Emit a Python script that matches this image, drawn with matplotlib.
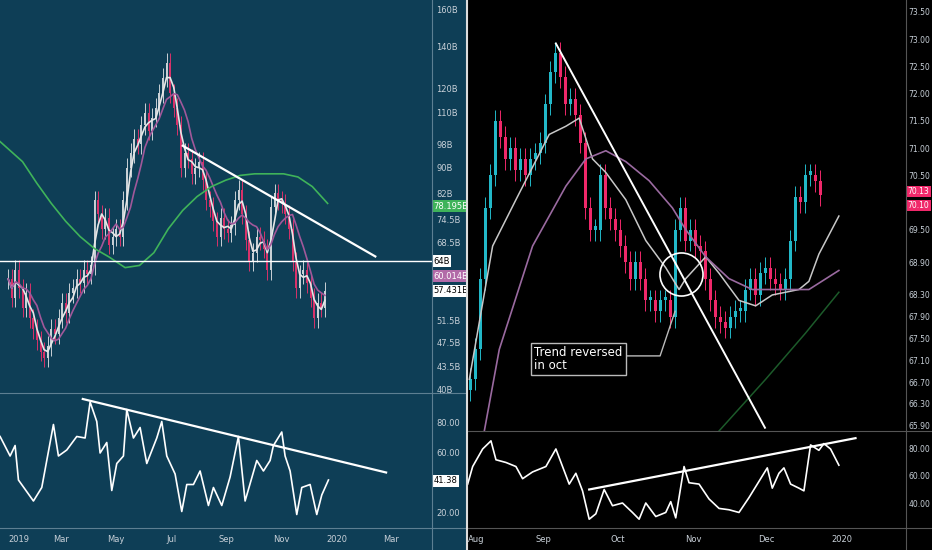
import matplotlib
matplotlib.use('Agg')
import matplotlib.pyplot as plt
import numpy as np
import pandas as pd

# ---------------- left chart (2019, values in billions) ----------------
left_step = 4  # days between candles, day 0 = Jan 1 2019
left_close = [60, 56, 62, 58, 54, 57, 52, 50,
              48, 46, 45, 47, 50, 49, 52,
              55, 53, 57, 58, 60, 59, 62, 61,
              63, 80, 76, 72, 75, 68, 70,
              72, 70, 80, 90, 95, 100, 98, 105,
              110, 103, 108, 112, 118, 125, 132,
              118, 112, 105, 90, 95, 93, 88, 90,
              92, 86, 80, 78, 74, 70, 75, 72,
              71, 73, 80, 83, 76, 69, 64,
              66, 70, 69, 67, 62, 78, 82, 80,
              79, 76, 72, 64, 58, 61, 62,
              59, 56, 52, 55, 54, 57.4]
left_green_days = [-9, 16, 32, 48, 64, 80, 96, 112, 130, 146, 162, 178, 194, 210, 226, 242, 258, 274, 290, 306, 322, 338, 355]
left_green = [99, 92, 85, 79, 74, 70, 67, 65, 62.5, 63, 66, 72, 77, 81, 84, 86, 87.5, 88, 88, 88, 87, 84, 79]
# zoom-x positions (3x) of the left oscillator points
left_rsi_x = [0, 30, 45, 55, 100, 125, 160, 175, 200, 230, 255, 270, 290, 300, 320, 335, 350, 370, 380, 400, 420, 440, 470, 485, 500, 525, 545, 560, 580, 600, 625, 640, 665, 690, 715, 735, 770, 790, 810, 820, 845, 855, 870, 890, 905, 930, 950, 965, 985]
left_rsi = [71, 58, 65, 42, 28, 37, 79, 58, 62, 71, 70, 94, 81, 60, 67, 35, 53, 58, 89, 70, 77, 53, 70, 81, 58, 46, 21, 39, 39, 48, 25, 37, 25, 44, 71, 28, 55, 48, 55, 65, 74, 58, 48, 19, 37, 39, 19, 32, 42]
left_price_ticks = [160, 140, 120, 110, 98, 90, 82, 74.5, 68.5, 51.5, 47.5, 43.5, 40]
left_price_labels = ['160B', '140B', '120B', '110B', '98B', '90B', '82B', '74.5B', '68.5B', '51.5B', '47.5B', '43.5B', '40B']
left_date_days = [0, 59, 120, 181, 243, 304, 365, 425]
left_date_labels = ['2019', 'Mar', 'May', 'Jul', 'Sep', 'Nov', '2020', 'Mar']

# ---------------- right chart (Aug-Dec 2019, day 0 = Aug 1) ----------------
right_close = [66.75, 67.3, 68.6, 69.9, 70.5, 71.5, 71.2, 70.8, 71.0, 70.6, 70.8, 70.5, 70.8, 70.9,
               71.1, 71.8, 72.4, 72.75, 72.3, 71.8, 71.9, 71.6, 71.1, 69.9, 69.5, 69.5, 70.5, 69.9,
               69.7, 69.5, 69.2, 68.9, 68.6, 68.9, 68.6, 68.2, 68.2, 68.0, 68.2, 68.2, 67.9, 69.5,
               69.9, 69.3, 69.5, 69.2, 69.1, 68.6, 68.2, 67.9, 67.8, 67.7, 67.9, 68.0, 68.0, 68.4,
               68.6, 68.3, 68.7, 68.8, 68.6, 68.5, 68.4, 68.6, 69.3, 70.1, 70.0, 70.5, 70.5, 70.4, 70.13]
zx_white = [10, 80, 150, 250, 300, 340, 380, 420, 480, 540, 600, 640, 660, 720, 760, 820, 870, 920, 1000, 1030, 1060, 1120]
right_white = [66.75, 69.2, 70.05, 71.25, 71.4, 71.55, 70.8, 70.55, 70.05, 69.3, 68.8, 68.4, 68.6, 69.0, 68.7, 68.2, 68.1, 68.3, 68.4, 68.55, 69.05, 69.75]
zx_purple = [55, 100, 200, 300, 360, 420, 480, 550, 620, 660, 720, 790, 860, 950, 1030, 1120]
right_purple = [65.8, 67.3, 69.2, 70.3, 70.8, 70.95, 70.75, 70.4, 69.9, 69.5, 69.0, 68.6, 68.4, 68.4, 68.4, 68.75]
zx_green = [760, 900, 1020, 1120]
right_green = [65.8, 66.75, 67.6, 68.35]
zx_rsi = [5, 20, 50, 75, 90, 120, 150, 170, 200, 240, 270, 310, 330, 350, 370, 390, 415, 440, 470, 500, 520, 540,
          570, 600, 615, 630, 655, 670, 700, 730, 760, 790, 820, 850, 880, 905, 920, 940, 955, 975, 1000, 1015,
          1035, 1060, 1075, 1095, 1120]
right_rsi = [54, 67, 80, 86, 72, 70, 67, 58, 63, 67, 80, 54, 62, 49, 28, 32, 50, 38, 40, 33, 28, 40,
             30, 33, 41, 29, 67, 55, 54, 43, 36, 35, 33, 44, 56, 66, 51, 62, 66, 54, 51, 49,
             83, 79, 84, 80, 68]
right_price_ticks = [73.5, 73.0, 72.5, 72.0, 71.5, 71.0, 70.5, 69.5, 68.9, 68.3, 67.9, 67.5, 67.1, 66.7, 66.3, 65.9]
right_date_days = [0, 31, 61, 92, 122, 153]
right_date_labels = ['Aug', 'Sep', 'Oct', 'Nov', 'Dec', '2020']


def zday(x):
    # right-chart zoom x -> day since Aug 1
    return (np.asarray(x) / 3.0 - 2) / 2.45


W, H = 932, 550
fig = plt.figure(figsize=(W / 100, H / 100), dpi=100)
BG_L = '#0e3e56'
fig.patch.set_facecolor(BG_L)


def box(x0, y0, x1, y1):
    return [x0 / W, 1 - y1 / H, (x1 - x0) / W, (y1 - y0) / H]


def style(ax, bg):
    ax.set_facecolor(bg)
    for s in ax.spines.values():
        s.set_visible(False)
    ax.tick_params(length=0, labelsize=6, colors='#c8d0d8', pad=3)
    ax.yaxis.tick_right()


def candles(ax, x, o, c, h, l, w, up, dn):
    for xi, oi, ci, hi, li in zip(x, o, c, h, l):
        col = up if ci >= oi else dn
        ax.vlines(xi, li, hi, color=col, lw=0.7)
        ax.bar(xi, abs(ci - oi) or 0.001 * ci, bottom=min(oi, ci), width=w, color=col, lw=0)


def tag(ax, y, text, fc, tc='black', fs=6):
    ax.text(1.004, y, text, transform=ax.get_yaxis_transform(), fontsize=fs, color=tc,
            va='center', ha='left', bbox=dict(boxstyle='square,pad=0.15', fc=fc, ec='none'))


# ---- left price pane ----
axl = fig.add_axes(box(0, 0, 432, 393))
style(axl, BG_L)
lc = np.array(left_close)
lx = np.arange(len(lc)) * left_step
lo = np.r_[lc[0], lc[:-1]]
candles(axl, lx, lo, lc, np.maximum(lo, lc) * 1.035, np.minimum(lo, lc) * 0.965, 2.2, '#c9d1d6', '#d8326a')
s = pd.Series(lc)
axl.plot(lx, s.rolling(3, min_periods=1).mean(), color='#e6e6e6', lw=1.2)
axl.plot(lx, s.rolling(7, min_periods=1).mean(), color='#a0589a', lw=1.2)
axl.plot(left_green_days, left_green, color='#3fb35a', lw=1.2)
axl.axhline(64, color='white', lw=1)
axl.plot([194, 408], [97.5, 65.1], color='white', lw=1.6)
axl.set_yscale('log')
axl.set_ylim(39.56, 165.9)
axl.set_xlim(-9, 471)
axl.set_yticks(left_price_ticks)
axl.set_yticklabels(left_price_labels)
axl.minorticks_off()
axl.set_xticks([])
tag(axl, 78.195, '78.195B', '#3fb35a', 'white')
tag(axl, 60.6, '60.014B', '#b26aa8', 'white')
tag(axl, 64, '64B', 'white')
tag(axl, 57.431, '57.431B', 'white')

# ---- left rsi pane ----
axr = fig.add_axes(box(0, 393, 432, 528))
style(axr, BG_L)
axr.plot((np.array(left_rsi_x) / 3.0 - 8) / 0.9, left_rsi, color='white', lw=1.2)
axr.plot([83, 420], [96, 47], color='white', lw=1.6)
axr.set_ylim(10, 100)
axr.set_xlim(-9, 471)
axr.set_yticks([80, 60, 20])
axr.set_yticklabels(['80.00', '60.00', '20.00'])
axr.set_xticks(left_date_days)
axr.set_xticklabels(left_date_labels)
axr.get_xticklabels()[0].set_ha('left')
axr.tick_params(axis='x', pad=5)
tag(axr, 41.38, '41.38', 'white')

# ---- right side ----
fig.patches.append(plt.Rectangle((466 / W, 0), 1 - 466 / W, 1, transform=fig.transFigure, fc='black', zorder=-1))
axp = fig.add_axes(box(468, 0, 906, 431))
style(axp, 'black')
rc = np.array(right_close)
rx = np.linspace(1, 144, len(rc))
ro = np.r_[rc[0] - 0.2, rc[:-1]]
candles(axp, rx, ro, rc, np.maximum(ro, rc) + 0.2, np.minimum(ro, rc) - 0.2, 1.0, '#22b8c8', '#f0286a')
axp.plot(zday(zx_white), right_white, color='#c8c8c8', lw=1.1)
axp.plot(zday(zx_purple), right_purple, color='#9a6aa0', lw=1.2)
axp.plot(zday(zx_green), right_green, color='#1c5a2a', lw=1.1)
axp.plot(zday([270, 898]), [72.92, 65.86], color='white', lw=1.4)
axp.plot([zday(645)], [68.69], marker='o', ms=31, mfc='none', mec='white', mew=1.2)
axp.plot(zday([415, 583, 628]), [67.18, 67.18, 68.0], color='#bbbbbb', lw=1)
axp.text(zday(205), 67.12, 'Trend reversed\nin oct', color='white', fontsize=8.5, va='center', ha='left',
         linespacing=0.95, bbox=dict(boxstyle='square,pad=0.3', fc='black', ec='#bbbbbb', lw=1))
axp.set_ylim(65.8, 73.72)
axp.set_xlim(0, 179)
axp.set_yticks(right_price_ticks)
axp.set_yticklabels(['%.2f' % v for v in right_price_ticks])
axp.tick_params(axis='y', labelsize=5.5, pad=2)
axp.set_xticks([])
tag(axp, 70.2, '70.13', '#f0286a', 'white', 5.5)
tag(axp, 69.95, '70.10', '#f0286a', 'white', 5.5)

axq = fig.add_axes(box(468, 431, 906, 528))
style(axq, 'black')
axq.plot(zday(zx_rsi), right_rsi, color='white', lw=1.2)
axq.plot(zday([370, 1170]), [50, 88], color='white', lw=1.6)
axq.set_ylim(21.5, 93.3)
axq.set_xlim(0, 179)
axq.set_yticks([80, 60, 40])
axq.set_yticklabels(['80.00', '60.00', '40.00'])
axq.tick_params(axis='y', labelsize=5.5, pad=2)
axq.set_xticks(right_date_days)
axq.set_xticklabels(right_date_labels)
axq.get_xticklabels()[0].set_ha('left')
axq.tick_params(axis='x', pad=5)

# separators
for x0, x1, c, ytop in [(0, 466, '#5d7f92', 393), (468, 932, '#555555', 431)]:
    for y in (ytop, 528):
        fig.add_artist(plt.Line2D([x0 / W, x1 / W], [1 - y / H, 1 - y / H], color=c, lw=0.8))
fig.add_artist(plt.Line2D([432 / W, 432 / W], [0, 1], color='#5d7f92', lw=0.8))
fig.add_artist(plt.Line2D([906 / W, 906 / W], [0, 1], color='#555555', lw=0.8))
fig.add_artist(plt.Line2D([467 / W, 467 / W], [0, 1], color='#dddddd', lw=1.5))

fig.savefig('out.png', dpi=100, facecolor=fig.get_facecolor())
